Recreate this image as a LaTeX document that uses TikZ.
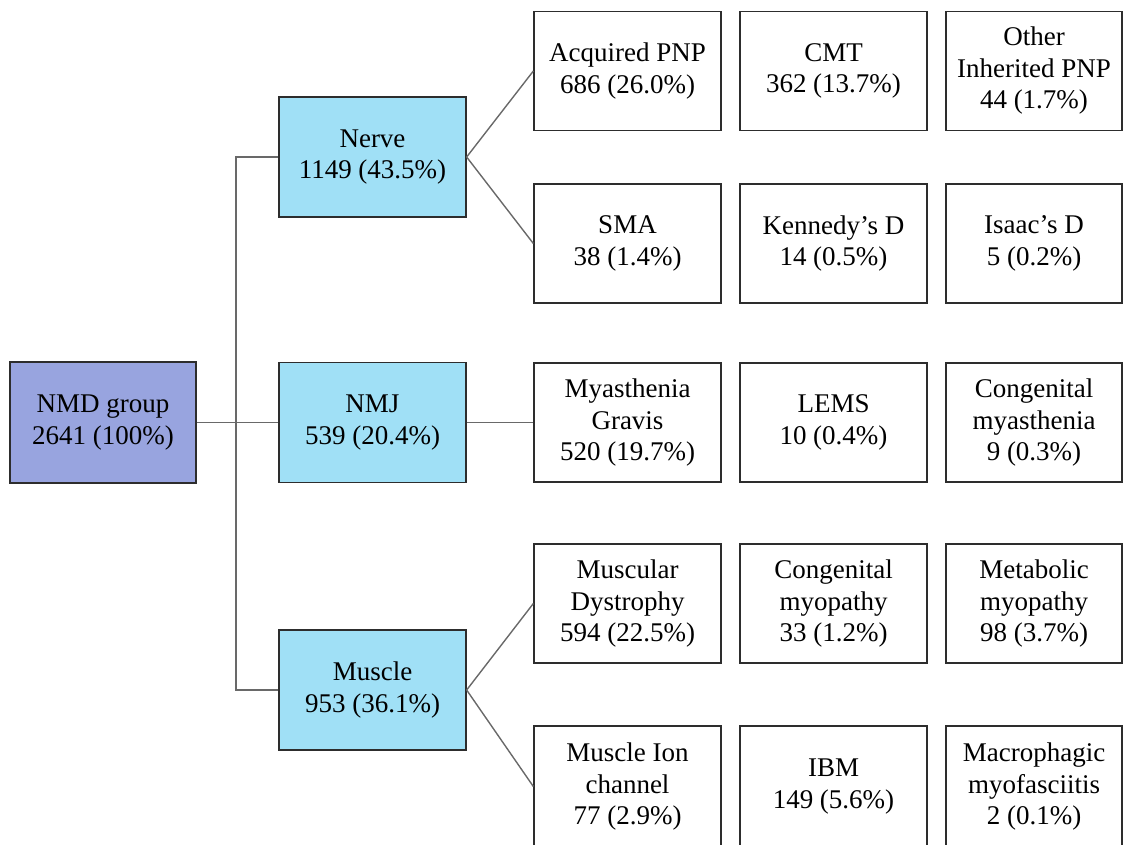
\documentclass[tikz,border=0pt]{standalone}
\usepackage{fontspec}
\setmainfont{Liberation Serif}
\definecolor{rootfill}{RGB}{152,164,223}
\definecolor{midfill}{RGB}{160,224,246}
\definecolor{linegray}{RGB}{105,105,105}
\definecolor{boxline}{RGB}{45,45,45}
\begin{document}
\begin{tikzpicture}[x=1pt,y=-1pt,
  base/.style={draw=boxline,line width=1.3pt,inner sep=0pt,align=center,
    font=\fontsize{27}{31.5}\selectfont},
  rootbox/.style={base,fill=rootfill,minimum width=186pt,minimum height=121pt},
  midbox/.style={base,fill=midfill,minimum width=187pt,minimum height=120pt},
  leafbox/.style={base,fill=white,minimum width=187pt,minimum height=119pt},
  lastbox/.style={base,fill=white,minimum width=176pt,minimum height=119pt},
  conn/.style={draw=linegray,line width=1.4pt}]
\useasboundingbox (0,0) rectangle (1123,844);
\clip (0,0) rectangle (1123,844);

% root and middle
\node[rootbox] (nmd) at (103,422.5) {NMD group\\2641 (100\%)};
\node[midbox] (nerve) at (372.5,157) {Nerve\\1149 (43.5\%)};
\node[midbox] (nmj) at (372.5,422.5) {NMJ\\539 (20.4\%)};
\node[midbox] (muscle) at (372.5,690) {Muscle\\953 (36.1\%)};

% leaves row 1
\node[leafbox] (acq) at (627.5,71) {Acquired PNP\\686 (26.0\%)};
\node[leafbox] (cmt) at (833.5,71) {CMT\\362 (13.7\%)};
\node[lastbox] (oth) at (1034,71) {Other\\Inherited PNP\\44 (1.7\%)};
% row 2
\node[leafbox] (sma) at (627.5,243.5) {SMA\\38 (1.4\%)};
\node[leafbox] (ken) at (833.5,243.5) {Kennedy’s D\\14 (0.5\%)};
\node[lastbox] (isa) at (1034,243.5) {Isaac’s D\\5 (0.2\%)};
% row 3
\node[leafbox] (mg) at (627.5,422.5) {Myasthenia\\Gravis\\520 (19.7\%)};
\node[leafbox] (lems) at (833.5,422.5) {LEMS\\10 (0.4\%)};
\node[lastbox] (cmy) at (1034,422.5) {Congenital\\myasthenia\\9 (0.3\%)};
% row 4
\node[leafbox] (md) at (627.5,603.5) {Muscular\\Dystrophy\\594 (22.5\%)};
\node[leafbox] (cmp) at (833.5,603.5) {Congenital\\myopathy\\33 (1.2\%)};
\node[lastbox] (met) at (1034,603.5) {Metabolic\\myopathy\\98 (3.7\%)};
% row 5
\node[leafbox,minimum height=121pt] (ion) at (627.5,786.5) {Muscle Ion\\channel\\77 (2.9\%)};
\node[leafbox,minimum height=121pt] (ibm) at (833.5,786.5) {IBM\\149 (5.6\%)};
\node[lastbox,minimum height=121pt] (mac) at (1034,786.5) {Macrophagic\\myofasciitis\\2 (0.1\%)};

% connectors
\coordinate (trunk) at (236,422.5);
\draw[conn] (nmd.east) -- (trunk);
\draw[conn] (trunk) |- (nerve.west);
\draw[conn] (trunk) |- (muscle.west);
\draw[conn] (trunk) -- (nmj.west);
\draw[conn] (nerve.east) -- (acq.west);
\draw[conn] (nerve.east) -- (sma.west);
\draw[conn] (nmj.east) -- (mg.west);
\draw[conn] (muscle.east) -- (md.west);
\draw[conn] (muscle.east) -- (ion.west);
\end{tikzpicture}
\end{document}
